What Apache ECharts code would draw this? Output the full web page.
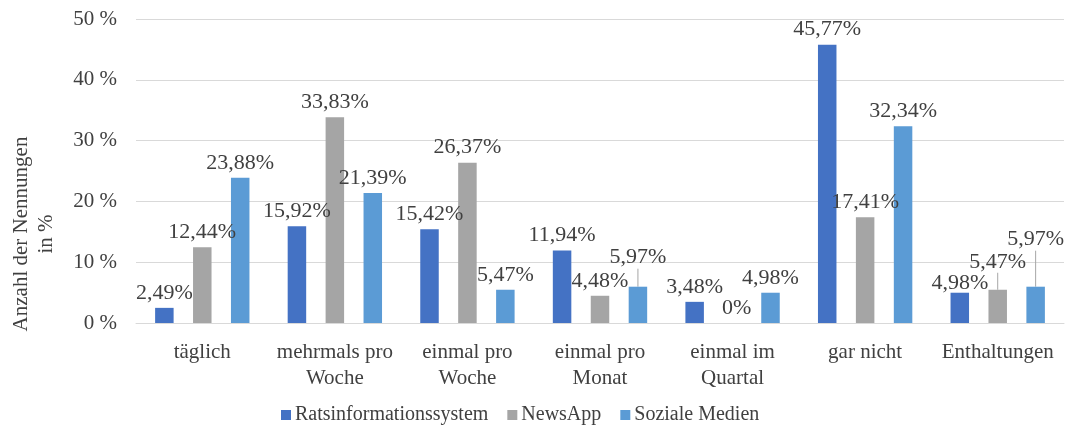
<!DOCTYPE html>
<html>
<head>
<meta charset="utf-8">
<script src="https://cdn.jsdelivr.net/npm/echarts@6/dist/echarts.min.js"></script>
<style>
  html, body { margin: 0; padding: 0; background: #fff; }
  #chart { width: 1067px; height: 426px; }
</style>
</head>
<body>
<div id="chart"></div>
<script>
// Nutzungshäufigkeit der Informationskanäle (Anteil der Nennungen in %)
const categories = ['täglich', 'mehrmals pro\nWoche', 'einmal pro\nWoche', 'einmal pro\nMonat', 'einmal im\nQuartal', 'gar nicht', 'Enthaltungen'];
const seriesNames = ['Ratsinformationssystem', 'NewsApp', 'Soziale Medien'];
const ratsinfo = [2.49, 15.92, 15.42, 11.94, 3.48, 45.77, 4.98];
const newsApp = [12.44, 33.83, 26.37, 4.48, 0, 17.41, 5.47];
const sozialeMedien = [23.88, 21.39, 5.47, 5.97, 4.98, 32.34, 5.97];
const yTicks = [0, 10, 20, 30, 40, 50];

const colors = ['#4472C4', '#A5A5A5', '#5B9BD5'];
const serif = '"Liberation Serif", "Times New Roman", serif';
const textColor = '#404040';

// labels lifted above their bars, drawn with a thin guide line
const lifted = {
  0: { 6: { dy: 5 } },
  1: { 4: { dx: 4 }, 6: { dy: -13, line: true } },
  2: { 3: { dy: -14, line: true }, 6: { dy: -32, line: true } }
};

function fmt(v) {
  return String(v).replace('.', ',') + '%';
}

function buildSeries(idx, values) {
  const adj = lifted[idx] || {};
  return {
    name: seriesNames[idx],
    type: 'bar',
    barWidth: 18.5,
    barGap: '105%',
    itemStyle: { color: colors[idx] },
    data: values.map((v, i) => {
      const item = { value: v };
      if (adj[i] && adj[i].line) {
        item.labelLine = { show: true, lineStyle: { color: '#A6A6A6', width: 1 } };
      }
      return item;
    }),
    label: {
      show: true,
      position: 'top',
      distance: 4,
      fontFamily: serif,
      fontSize: 22,
      color: textColor,
      formatter: p => fmt(p.value)
    },
    labelLayout: p => {
      const a = adj[p.dataIndex];
      return a ? { dx: a.dx || 0, dy: a.dy || 0 } : {};
    }
  };
}

const chart = echarts.init(document.getElementById('chart'), null, { renderer: 'canvas' });

chart.setOption({
  animation: false,
  backgroundColor: '#ffffff',
  grid: { left: 136, right: 3, top: 19, bottom: 103 },
  legend: {
    data: seriesNames,
    left: 276,
    top: 400,
    icon: 'rect',
    itemWidth: 10,
    itemHeight: 10,
    itemGap: 19,
    textStyle: { fontFamily: serif, fontSize: 20, color: textColor, padding: [0, 0, 0, -1] }
  },
  xAxis: {
    type: 'category',
    data: categories,
    axisTick: { show: false },
    axisLine: { lineStyle: { color: '#D9D9D9', width: 1 } },
    axisLabel: {
      margin: 16,
      fontFamily: serif,
      fontSize: 21,
      lineHeight: 26,
      color: textColor,
      interval: 0
    }
  },
  yAxis: {
    type: 'value',
    min: yTicks[0],
    max: yTicks[yTicks.length - 1],
    interval: 10,
    axisLine: { show: false },
    axisTick: { show: false },
    splitLine: { lineStyle: { color: '#D9D9D9', width: 1 } },
    axisLabel: {
      margin: 19,
      fontFamily: serif,
      fontSize: 21,
      color: textColor,
      formatter: '{value} %'
    }
  },
  graphic: [{
    type: 'text',
    x: 34,
    y: 234,
    rotation: Math.PI / 2,
    style: {
      text: 'Anzahl der Nennungen\nin %',
      fontFamily: serif,
      fontSize: 21,
      lineHeight: 25,
      fill: textColor,
      align: 'center',
      verticalAlign: 'middle'
    }
  }],
  series: [
    buildSeries(0, ratsinfo),
    buildSeries(1, newsApp),
    buildSeries(2, sozialeMedien)
  ]
});
</script>
</body>
</html>
